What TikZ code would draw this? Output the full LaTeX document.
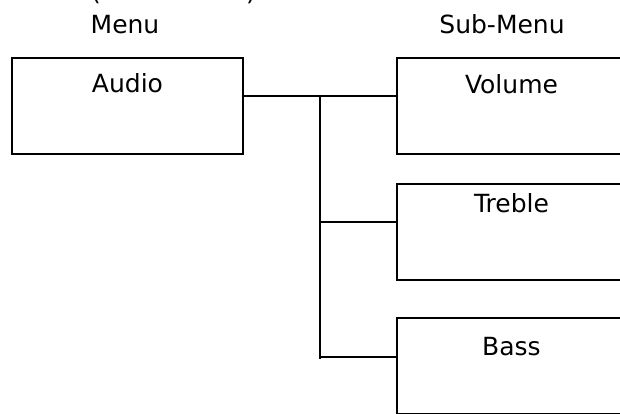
\documentclass[tikz,border=0pt]{standalone}
\usepackage{fontspec}
\setmainfont{DejaVu Sans}
\begin{document}
\begin{tikzpicture}[x=1pt,y=-1pt,
  box/.style={draw=black,line width=2pt,minimum width=231pt,minimum height=96pt,inner sep=0pt},
  lbl/.style={anchor=base,inner sep=0pt,font=\fontsize{25}{29}\selectfont},
  conn/.style={draw=black,line width=1.8pt}]
\useasboundingbox (0,0) rectangle (620,414);
% clipped heading above
\node[lbl] (popen) at (96,1) {(};
\node[lbl] (pclose) at (251,1) {)};
% column headings
\node[lbl] (hmenu) at (125,34) {Menu};
\node[lbl] (hsub) at (502,34) {Sub-Menu};
% boxes
\node[box] (audio) at (127.5,106) {};
\node[box] (volume) at (512.5,106) {};
\node[box] (treble) at (512.5,231.5) {};
\node[box] (bass) at (512.5,365.5) {};
% texts
\node[lbl] (taudio) at (127.5,93) {Audio};
\node[lbl] (tvolume) at (511.5,94) {Volume};
\node[lbl] (ttreble) at (511.5,212) {Treble};
\node[lbl] (tbass) at (511.5,355) {Bass};
% connectors
\coordinate (j1) at (320,96);
\coordinate (j2) at (320,222);
\coordinate (j3) at (320,357);
\coordinate (jend) at (320,359);
\draw[conn] (audio.east |- j1) -- (volume.west |- j1);
\draw[conn] (j1) -- (jend);
\draw[conn] (j2) -- (treble.west |- j2);
\draw[conn] (j3) -- (bass.west |- j3);
\end{tikzpicture}
\end{document}
